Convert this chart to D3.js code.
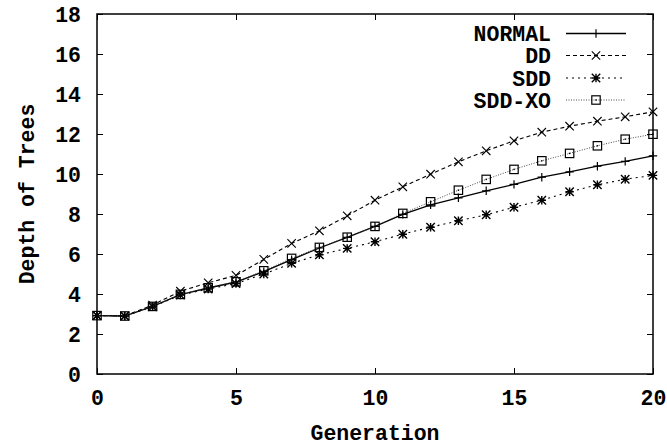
<!DOCTYPE html>
<html><head><meta charset="utf-8">
<script src="https://cdn.jsdelivr.net/npm/d3@7"></script>
<style>body{margin:0;background:#fff}svg{display:block}text{font-family:"Liberation Mono","DejaVu Sans Mono",monospace;font-weight:bold;fill:#000}</style>
</head><body>
<script>
const generations = d3.range(0, 21);
const normal = [2.92,2.9,3.38,3.97,4.3,4.6,5.12,5.72,6.3,6.83,7.38,7.98,8.46,8.81,9.16,9.48,9.84,10.11,10.39,10.63,10.91];
const dd     = [2.92,2.9,3.45,4.14,4.56,4.93,5.73,6.53,7.16,7.91,8.69,9.36,9.99,10.61,11.16,11.66,12.09,12.39,12.64,12.86,13.11];
const sdd    = [2.92,2.9,3.36,3.95,4.25,4.52,5.0,5.53,5.96,6.28,6.61,6.99,7.34,7.66,7.96,8.34,8.69,9.11,9.46,9.74,9.93];
const sddxo  = [2.92,2.9,3.38,3.98,4.31,4.61,5.16,5.78,6.33,6.84,7.38,8.03,8.61,9.19,9.73,10.23,10.66,11.03,11.41,11.74,11.99];
const seriesNames = ["NORMAL","DD","SDD","SDD-XO"];
const xTicks = [0,5,10,15,20];
const yTicks = [0,2,4,6,8,10,12,14,16,18];

const W = 667, H = 445;
const mLeft = 97, mRight = 653, mTop = 14, mBottom = 374;
const FS = 21.5;
const svg = d3.select("body").append("svg").attr("width", W).attr("height", H);
const x = d3.scaleLinear().domain([0,20]).range([mLeft,mRight]);
const y = d3.scaleLinear().domain([0,18]).range([mBottom,mTop]);

const series = [
  {name: seriesNames[0], vals: normal, dash: null, marker: "plus", color:"#000", width:1.3},
  {name: seriesNames[1], vals: dd, dash: "4,3", marker: "cross", color:"#000", width:1.1},
  {name: seriesNames[2], vals: sdd, dash: "2,4", marker: "star", color:"#000", width:1.1},
  {name: seriesNames[3], vals: sddxo, dash: "1,1.5", marker: "box", color:"#333", width:0.9}
];

const tickLen = 6;
const gb = svg.append("g").attr("transform",`translate(0,${mBottom})`)
  .call(d3.axisBottom(x).tickValues(xTicks).tickSize(-tickLen).tickPadding(16));
const gt = svg.append("g").attr("transform",`translate(0,${mTop})`)
  .call(d3.axisTop(x).tickValues(xTicks).tickSize(-tickLen).tickFormat(""));
const gl = svg.append("g").attr("transform",`translate(${mLeft},0)`)
  .call(d3.axisLeft(y).tickValues(yTicks).tickSize(-tickLen).tickPadding(16));
const gr = svg.append("g").attr("transform",`translate(${mRight},0)`)
  .call(d3.axisRight(y).tickValues(yTicks).tickSize(-tickLen).tickFormat(""));
[gb,gt,gl,gr].forEach(g=>{
  g.select(".domain").remove();
  g.selectAll(".tick line").attr("stroke","#000").attr("stroke-width",1);
  g.selectAll(".tick text").attr("font-size",FS).attr("font-family","Liberation Mono").attr("font-weight","bold").attr("fill","#000");
});
gb.selectAll(".tick text").attr("dy","0.71em");
gl.selectAll(".tick text").attr("dy","0.35em");

svg.append("rect").attr("x",mLeft).attr("y",mTop).attr("width",mRight-mLeft).attr("height",mBottom-mTop)
  .attr("fill","none").attr("stroke","#000").attr("stroke-width",1.5);

function drawMarker(g, type, cx, cy, color){
  const s = 4.2;
  if(type==="plus"){
    g.append("path").attr("d",`M${cx-s},${cy}H${cx+s}M${cx},${cy-s}V${cy+s}`).attr("stroke",color).attr("stroke-width",1.2).attr("fill","none");
  } else if(type==="cross"){
    g.append("path").attr("d",`M${cx-s},${cy-s}L${cx+s},${cy+s}M${cx-s},${cy+s}L${cx+s},${cy-s}`).attr("stroke",color).attr("stroke-width",1.1).attr("fill","none");
  } else if(type==="star"){
    g.append("path").attr("d",`M${cx-s},${cy}H${cx+s}M${cx},${cy-s}V${cy+s}M${cx-s},${cy-s}L${cx+s},${cy+s}M${cx-s},${cy+s}L${cx+s},${cy-s}`).attr("stroke","#000").attr("stroke-width",1.4).attr("fill","none");
  } else if(type==="box"){
    g.append("rect").attr("x",cx-s).attr("y",cy-s).attr("width",2*s).attr("height",2*s).attr("fill","none").attr("stroke","#000").attr("stroke-width",1.2);
    g.append("rect").attr("x",cx-0.7).attr("y",cy-0.7).attr("width",1.4).attr("height",1.4).attr("fill","#000");
  }
}

const line = d3.line().x((d,i)=>x(generations[i])).y(d=>y(d));
const plot = svg.append("g");
series.forEach(s=>{
  plot.append("path").datum(s.vals).attr("d",line).attr("fill","none")
    .attr("stroke",s.color).attr("stroke-width",s.width).attr("stroke-dasharray",s.dash);
  const mg = plot.append("g");
  s.vals.forEach((v,i)=>drawMarker(mg, s.marker, x(generations[i]), y(v), "#000"));
});

const legY = [33.5, 55.5, 78, 100];
const lg = svg.append("g");
series.forEach((s,i)=>{
  const yy = legY[i];
  lg.append("text").attr("x",551).attr("y",yy).attr("dy","0.35em").attr("text-anchor","end")
    .attr("font-size",FS).text(s.name);
  lg.append("line").attr("x1",566).attr("x2",626).attr("y1",yy).attr("y2",yy)
    .attr("stroke",s.color).attr("stroke-width",s.width).attr("stroke-dasharray",s.dash);
  drawMarker(lg, s.marker, 596, yy, "#000");
});

svg.append("text").attr("x",(mLeft+mRight)/2).attr("y",432).attr("dy","0.35em").attr("text-anchor","middle")
  .attr("font-size",FS).text("Generation");
svg.append("text").attr("transform",`translate(26,${(mTop+mBottom)/2}) rotate(-90)`).attr("dy","0.35em").attr("text-anchor","middle")
  .attr("font-size",FS).text("Depth of Trees");
</script>
</body></html>
